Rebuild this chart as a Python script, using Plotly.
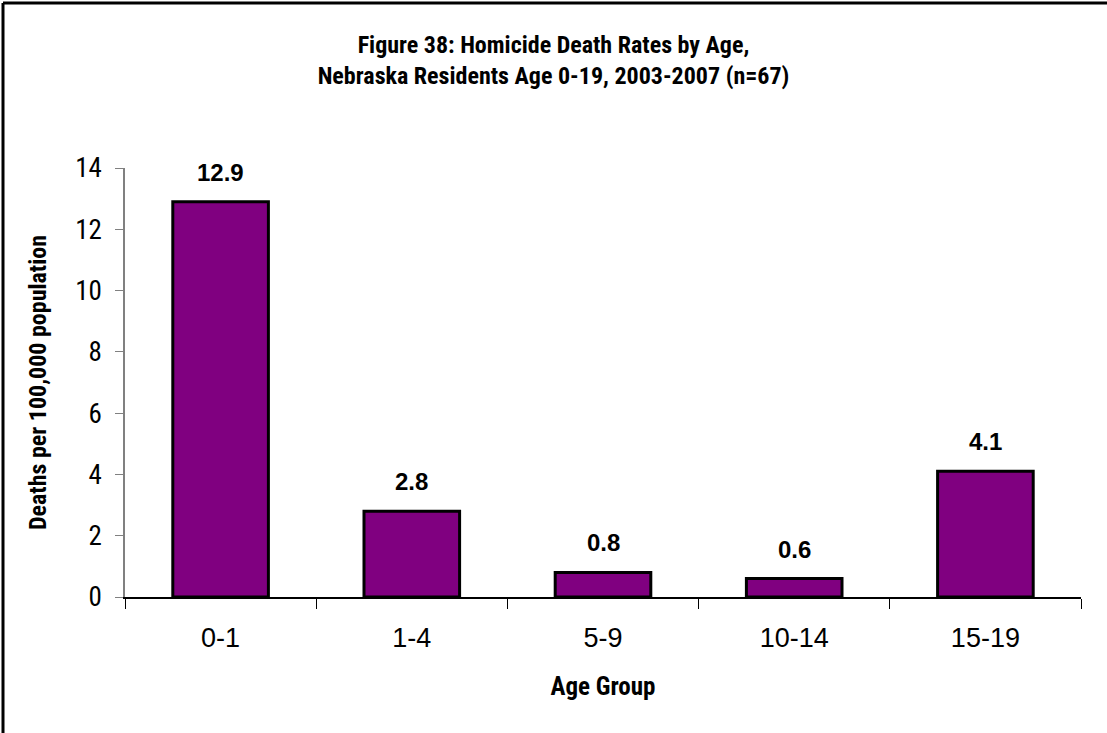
import plotly.graph_objects as go

# Homicide death rates per 100,000 population by age group
age_groups = ["0-1", "1-4", "5-9", "10-14", "15-19"]
rates = [12.9, 2.8, 0.8, 0.6, 4.1]
y_ticks = [0, 2, 4, 6, 8, 10, 12, 14]

W, H = 1107, 733
ML, MR, MT, MB = 125, 26, 168, 136

narrow = "Roboto Condensed, Liberation Sans, sans-serif"
regular = "Liberation Sans, Arial, sans-serif"

fig = go.Figure()
fig.add_trace(go.Bar(
    x=age_groups,
    y=rates,
    width=0.5,
    marker=dict(color="#800080", line=dict(color="#000000", width=3)),
    hoverinfo="x+y",
))

# value labels above each bar
for g, v in zip(age_groups, rates):
    fig.add_annotation(
        x=g, y=v, text=f"<b>{v:.1f}</b>", showarrow=False,
        yanchor="bottom", yshift=14,
        font=dict(family=regular, size=24, color="#000000"),
    )

# frame around the chart (left and top edges fall inside the canvas)
pw, ph = W - ML - MR, H - MT - MB
def px_x(p):
    return (p - ML) / pw
def px_y(p):
    return (H - MB - p) / ph
fig.add_shape(type="line", xref="paper", yref="paper",
              x0=px_x(3), x1=px_x(W + 10), y0=px_y(3), y1=px_y(3),
              line=dict(color="#000000", width=3))
fig.add_shape(type="line", xref="paper", yref="paper",
              x0=px_x(3), x1=px_x(3), y0=px_y(3), y1=px_y(H + 10),
              line=dict(color="#000000", width=3))

fig.update_layout(
    width=W, height=H,
    margin=dict(l=ML, r=MR, t=MT, b=MB),
    paper_bgcolor="#ffffff",
    plot_bgcolor="#ffffff",
    showlegend=False,
    title=dict(
        text="<b>Figure 38: Homicide Death Rates by Age,<br>Nebraska Residents Age 0-19, 2003-2007 (n=67)</b>",
        x=0.5, xanchor="center", xref="container",
        y=1 - 53 / H, yanchor="middle", yref="container",
        font=dict(family=narrow, size=24, color="#000000"),
    ),
    xaxis=dict(
        type="category",
        showline=True, linecolor="#000000", linewidth=1.5,
        ticks="outside", tickson="boundaries", ticklen=10, tickcolor="#000000",
        ticklabelstandoff=16,
        tickfont=dict(family=regular, size=27, color="#000000"),
        showgrid=False, zeroline=False,
        title=dict(text="<b>Age Group</b>", standoff=25,
                   font=dict(family=narrow, size=25, color="#000000")),
    ),
    yaxis=dict(
        range=[0, 14], tickvals=y_ticks,
        showline=True, linecolor="#808080", linewidth=1.5,
        ticks="outside", ticklen=8, tickcolor="#808080",
        ticklabelstandoff=8,
        tickfont=dict(family=narrow, size=27, color="#000000"),
        showgrid=False, zeroline=False,
        title=dict(text="<b>Deaths per 100,000 population</b>", standoff=22,
                   font=dict(family=narrow, size=24, color="#000000")),
    ),
)

fig.write_html("out.html")
